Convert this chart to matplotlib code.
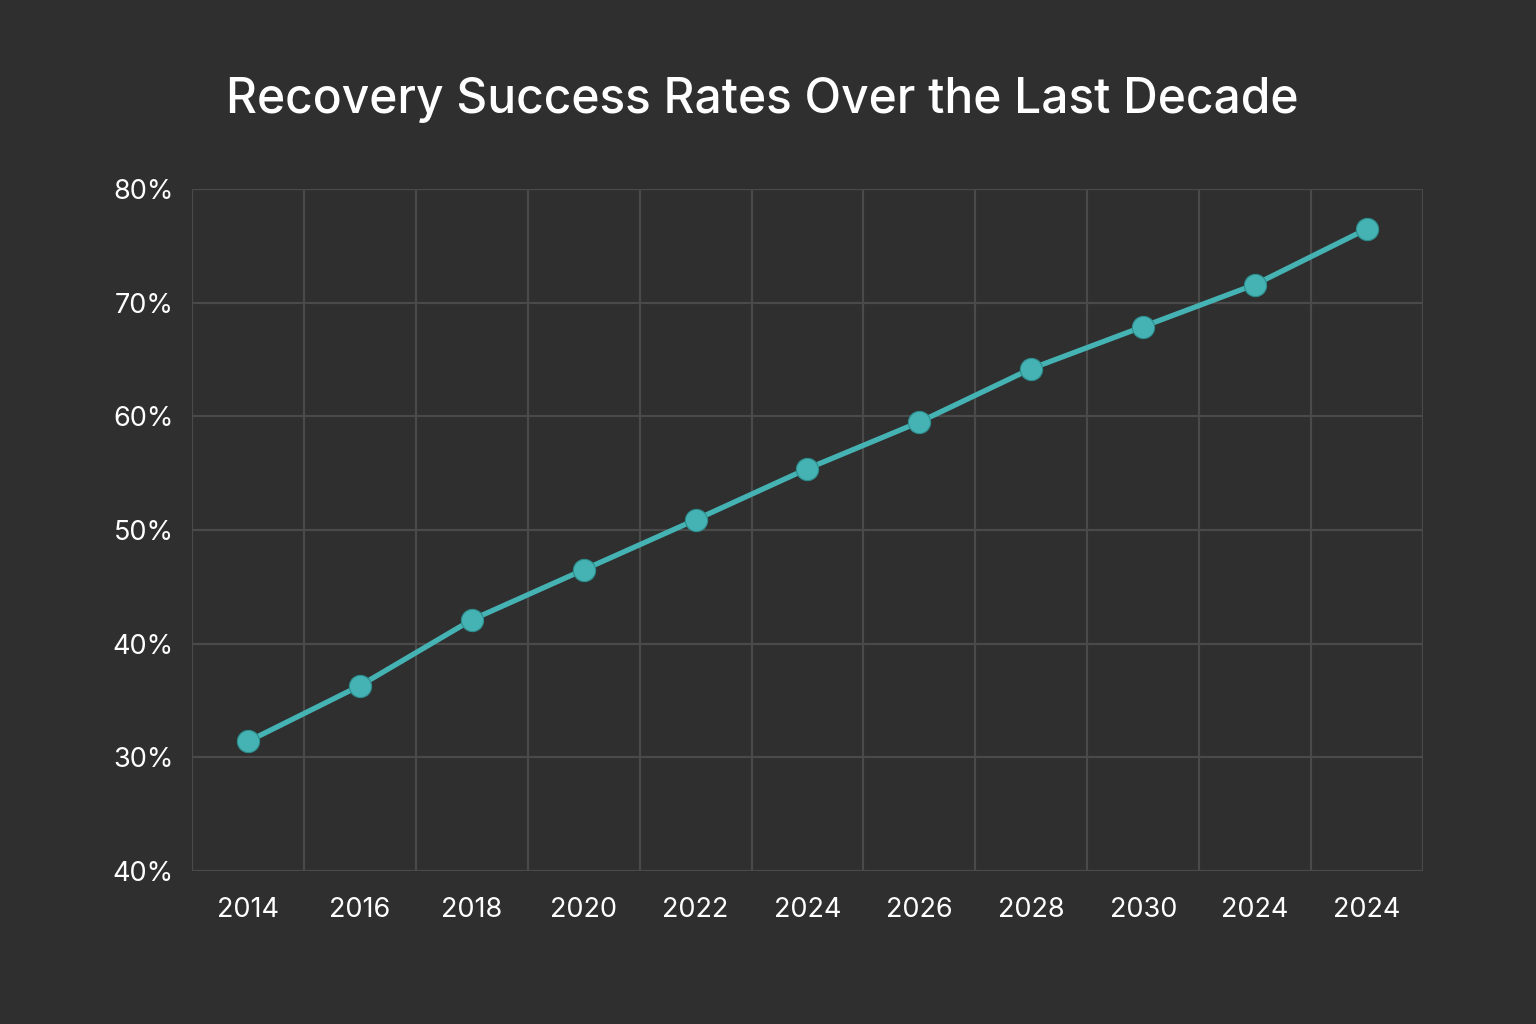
import matplotlib.pyplot as plt

# data
years = ['2014', '2016', '2018', '2020', '2022', '2024', '2026', '2028', '2030', '2024', '2024']
rates = [31.4, 36.3, 42.1, 46.5, 50.9, 55.4, 59.5, 64.2, 67.9, 71.6, 76.5]
ytick_vals = [20, 30, 40, 50, 60, 70, 80]
ytick_labels = ['40%', '30%', '40%', '50%', '60%', '70%', '80%']

bg = '#2f2f2f'
grid_c = '#4a4a4a'
teal = '#45b3b3'

plt.rcParams['font.family'] = ['Inter', 'DejaVu Sans']

fig = plt.figure(figsize=(15.36, 10.24), dpi=100, facecolor=bg)
ax = fig.add_axes([0.125, 0.1494, 0.8014, 0.666])
ax.set_facecolor(bg)

x = list(range(len(years)))
ax.plot(x, rates, '-o', color=teal, lw=3.8, markersize=16,
        markeredgecolor='#2e8c8c', markeredgewidth=0.8, zorder=3)

ax.set_xlim(-0.5, len(years) - 0.5)
ax.set_ylim(20, 80)
ax.set_xticks(x)
ax.set_xticklabels(years)
ax.set_yticks(ytick_vals)
ax.set_yticklabels(ytick_labels)

# vertical grid between categories
for i in range(len(years) + 1):
    ax.axvline(i - 0.5, color=grid_c, lw=1.6, zorder=1)
for v in ytick_vals:
    ax.axhline(v, color=grid_c, lw=1.6, zorder=1)

for s in ax.spines.values():
    s.set_visible(False)

ax.tick_params(axis='both', length=0, colors='white', labelsize=19.5)
ax.tick_params(axis='x', pad=19)
ax.tick_params(axis='y', pad=13)

fig.text(0.496, 0.902, 'Recovery Success Rates Over the Last Decade',
         color='white', fontsize=34.5, fontweight='medium', ha='center', va='center')

fig.savefig('out.png', dpi=100, facecolor=bg)
